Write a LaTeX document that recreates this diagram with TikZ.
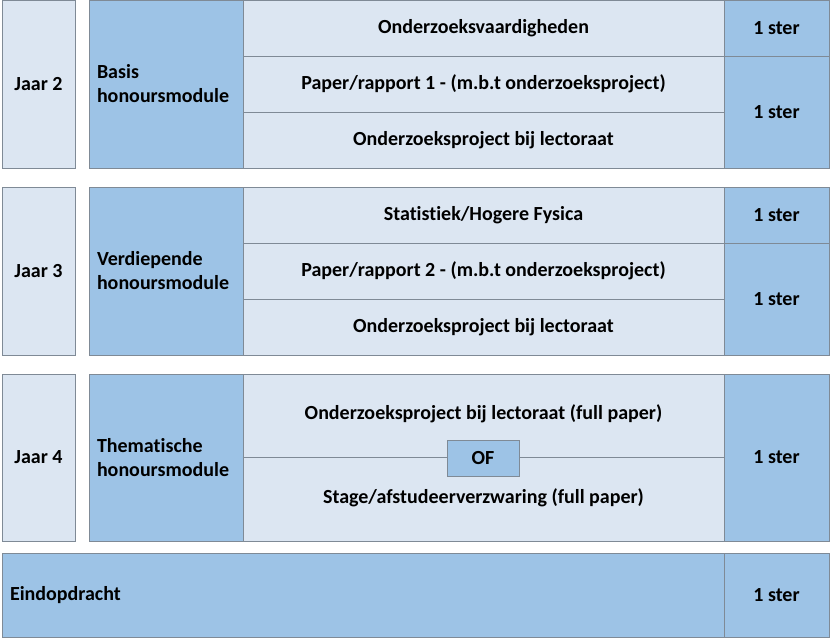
\documentclass[tikz,border=0pt]{standalone}
\usepackage{fontspec}
\setmainfont{Carlito}[Ligatures=NoCommon]
\usepackage{xcolor}
\definecolor{licht}{HTML}{DCE6F2}
\definecolor{donker}{HTML}{9DC3E6}
\definecolor{rand}{HTML}{7F8A96}
\tikzset{
  tekst/.style={inner sep=0pt,font=\fontsize{20}{24}\selectfont\bfseries},
  cel/.style={tekst,rectangle,draw=rand,line width=0.8pt},
  licht cel/.style={cel,fill=licht},
  donker cel/.style={cel,fill=donker},
  module/.style={donker cel,text width=138pt,inner xsep=8pt,align=left,minimum height=#1},
}
\begin{document}
\begin{tikzpicture}[x=1pt,y=-1pt]
\useasboundingbox (0,0) rectangle (830,638);
% jaar 2
\node (j2) at (38.5,84) [licht cel,minimum width=73pt,minimum height=168pt] {Jaar 2};
\node (m2) at (166,84) [module=168pt] {Basis\\honoursmodule};
\node (v2a) at (483.5,28) [licht cel,minimum width=481pt,minimum height=56pt] {Onderzoeksvaardigheden};
\node (v2b) at (483.5,84) [licht cel,minimum width=481pt,minimum height=56pt] {Paper/rapport 1 - (m.b.t onderzoeksproject)};
\node (v2c) at (483.5,140) [licht cel,minimum width=481pt,minimum height=56pt] {Onderzoeksproject bij lectoraat};
\node (s2a) at (776.5,28) [donker cel,minimum width=105pt,minimum height=56pt] {1 ster};
\node (s2b) at (776.5,112) [donker cel,minimum width=105pt,minimum height=112pt] {1 ster};
% jaar 3
\node (j3) at (38.5,271) [licht cel,minimum width=73pt,minimum height=168pt] {Jaar 3};
\node (m3) at (166,271) [module=168pt] {Verdiepende\\honoursmodule};
\node (v3a) at (483.5,215) [licht cel,minimum width=481pt,minimum height=56pt] {Statistiek/Hogere Fysica};
\node (v3b) at (483.5,271) [licht cel,minimum width=481pt,minimum height=56pt] {Paper/rapport 2 - (m.b.t onderzoeksproject)};
\node (v3c) at (483.5,327) [licht cel,minimum width=481pt,minimum height=56pt] {Onderzoeksproject bij lectoraat};
\node (s3a) at (776.5,215) [donker cel,minimum width=105pt,minimum height=56pt] {1 ster};
\node (s3b) at (776.5,299) [donker cel,minimum width=105pt,minimum height=112pt] {1 ster};
% jaar 4
\node (j4) at (38.5,457.5) [licht cel,minimum width=73pt,minimum height=167pt] {Jaar 4};
\node (m4) at (166,457.5) [module=167pt] {Thematische\\honoursmodule};
\node (v4) at (483.5,457.5) [licht cel,minimum width=481pt,minimum height=167pt] {};
\node (v4a) at (483.5,414) [tekst] {Onderzoeksproject bij lectoraat (full paper)};
\node (v4b) at (483.5,498) [tekst] {Stage/afstudeerverzwaring (full paper)};
\draw[rand,line width=0.8pt] (v4.west) -- (v4.east);
\node (of) at (483,458) [donker cel,minimum width=72pt,minimum height=36pt] {OF};
\node (s4) at (776.5,457.5) [donker cel,minimum width=105pt,minimum height=167pt] {1 ster};
% eindopdracht
\node (eind) at (363,595) [donker cel,minimum width=722pt,minimum height=84pt,text width=706pt,inner xsep=8pt,align=left] {Eindopdracht};
\node (s5) at (776.5,595) [donker cel,minimum width=105pt,minimum height=84pt] {1 ster};
\end{tikzpicture}
\end{document}
